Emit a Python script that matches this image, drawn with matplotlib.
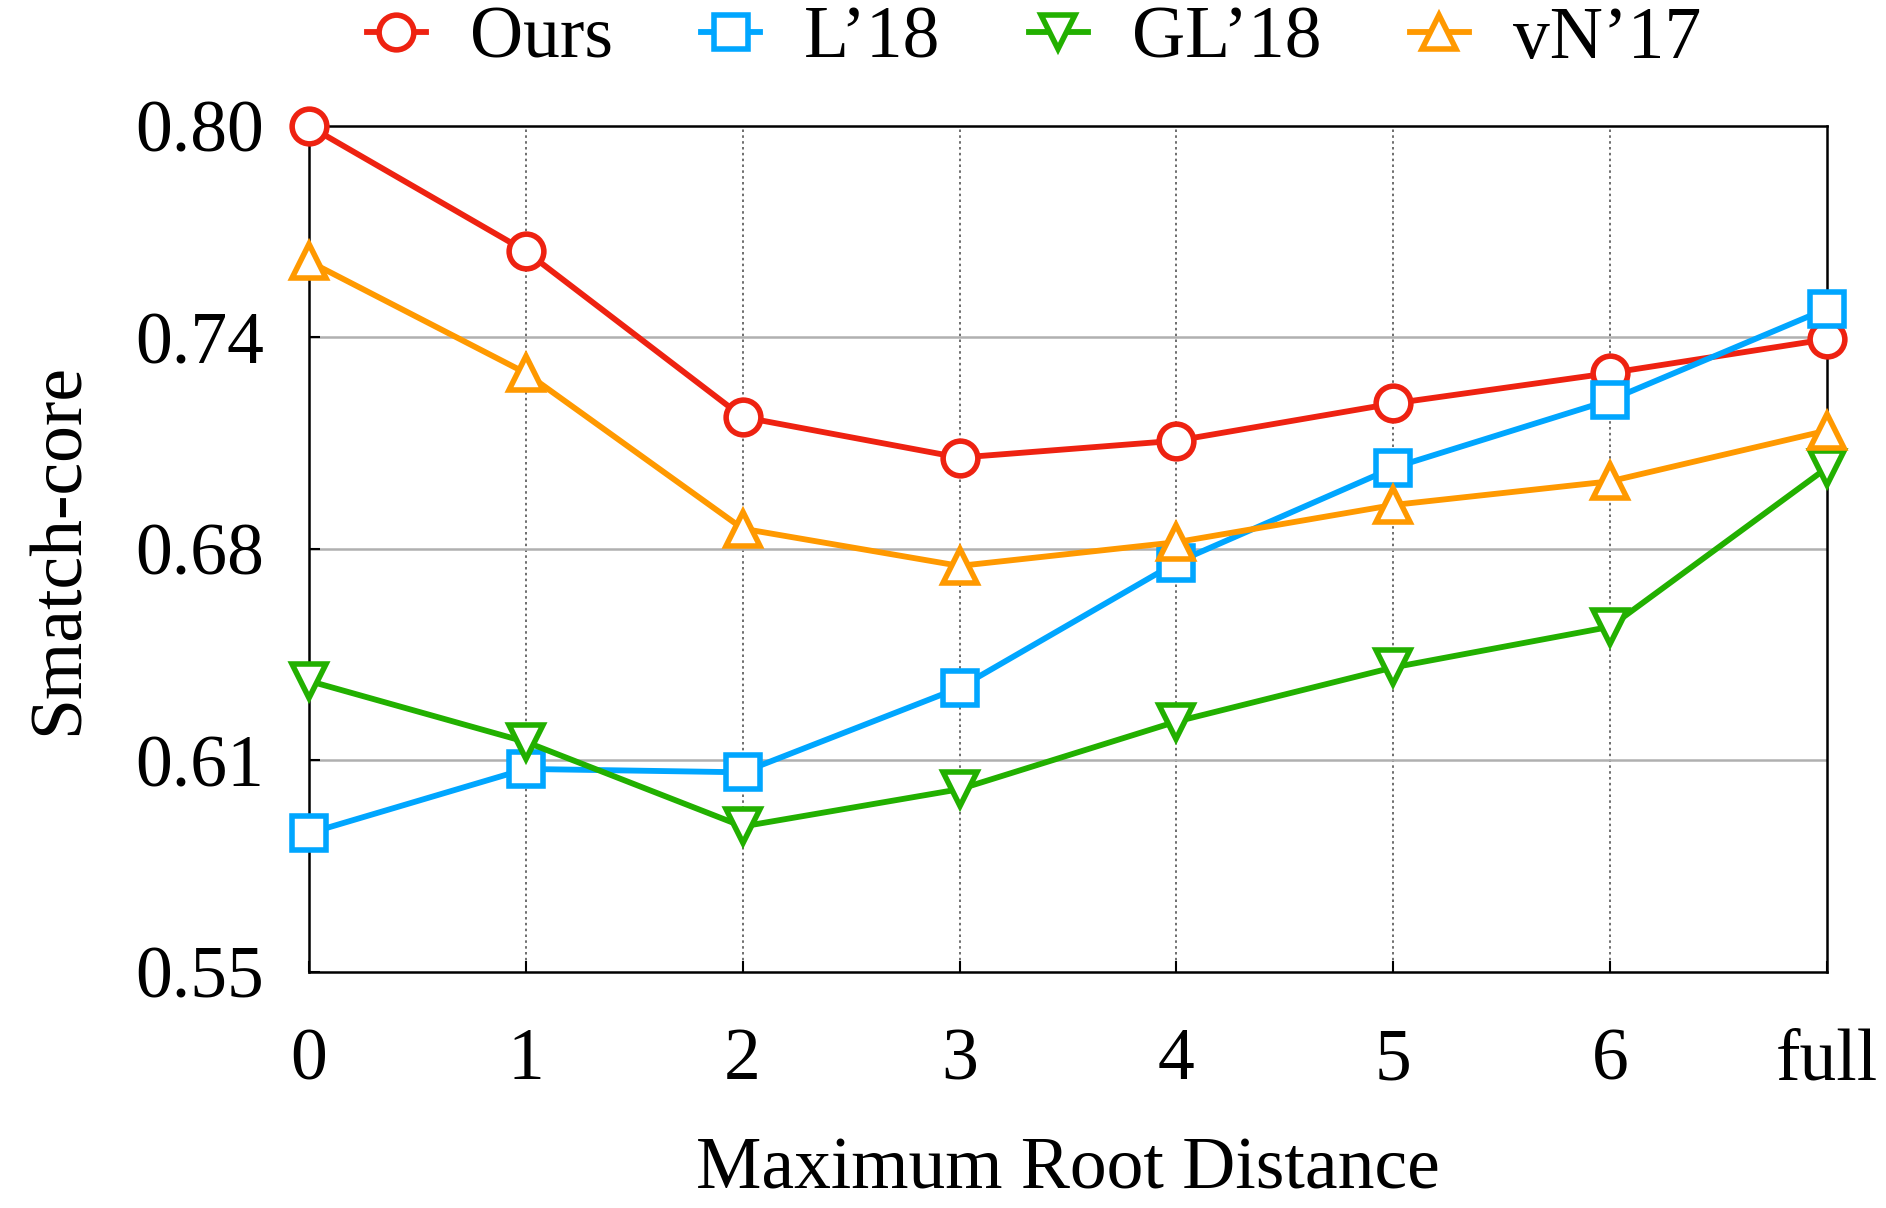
import matplotlib.pyplot as plt

plt.rcParams['font.family'] = ['Liberation Serif', 'DejaVu Serif']

# x categories
dist_labels = ['0', '1', '2', '3', '4', '5', '6', 'full']

# Smatch-core per method
ours = [0.800, 0.763, 0.714, 0.702, 0.707, 0.718, 0.727, 0.737]
l18 = [0.591, 0.610, 0.609, 0.634, 0.671, 0.699, 0.719, 0.746]
gl18 = [0.636, 0.618, 0.593, 0.604, 0.624, 0.640, 0.652, 0.699]
vn17 = [0.760, 0.727, 0.681, 0.670, 0.677, 0.688, 0.695, 0.710]

yticks = [0.55, 0.6125, 0.675, 0.7375, 0.80]
ytick_labels = ['0.55', '0.61', '0.68', '0.74', '0.80']

fig = plt.figure(figsize=(18.86, 12.08), dpi=100)
ax = fig.add_axes([0.1638, 0.1954, 0.8049, 0.7003])

x = list(range(len(dist_labels)))
styles = [
    (ours, 'Ours', '#ee2211', 'o'),
    (l18, 'L\u201918', '#00a6ff', 's'),
    (gl18, 'GL\u201918', '#22b000', 'v'),
    (vn17, 'vN\u201917', '#ff9900', '^'),
]
for vals, name, col, mk in styles:
    ax.plot(x, vals, color=col, lw=4.2, marker=mk, ms=25, mew=4,
            mfc='white', mec=col, label=name, clip_on=False, zorder=3)

ax.set_xlim(0, len(dist_labels) - 1)
ax.set_ylim(0.55, 0.80)
ax.set_xticks(x)
ax.set_xticklabels(dist_labels)
ax.set_yticks(yticks)
ax.set_yticklabels(ytick_labels)
ax.tick_params(direction='in', length=8, width=1.5, labelsize=53)
ax.tick_params(axis='x', pad=40)
ax.tick_params(axis='y', pad=32)

for xv in x[1:-1]:
    ax.axvline(xv, color='#555555', lw=1.2, ls=(0, (1.5, 2)), zorder=1)
for yv in yticks[1:-1]:
    ax.axhline(yv, color='#b0b0b0', lw=1.8, zorder=1)

for s in ax.spines.values():
    s.set_linewidth(1.8)

ax.set_xlabel('Maximum Root Distance', fontsize=53, labelpad=30)
ax.set_ylabel('Smatch-core', fontsize=53, labelpad=30)

fig.legend(*ax.get_legend_handles_labels(), loc='center',
           bbox_to_anchor=(1034 / 1886, 0.967), ncol=4, frameon=False,
           fontsize=53, handlelength=0.8, handletextpad=0.6,
           columnspacing=1.2, borderaxespad=0)

fig.savefig('out.png', dpi=100)
